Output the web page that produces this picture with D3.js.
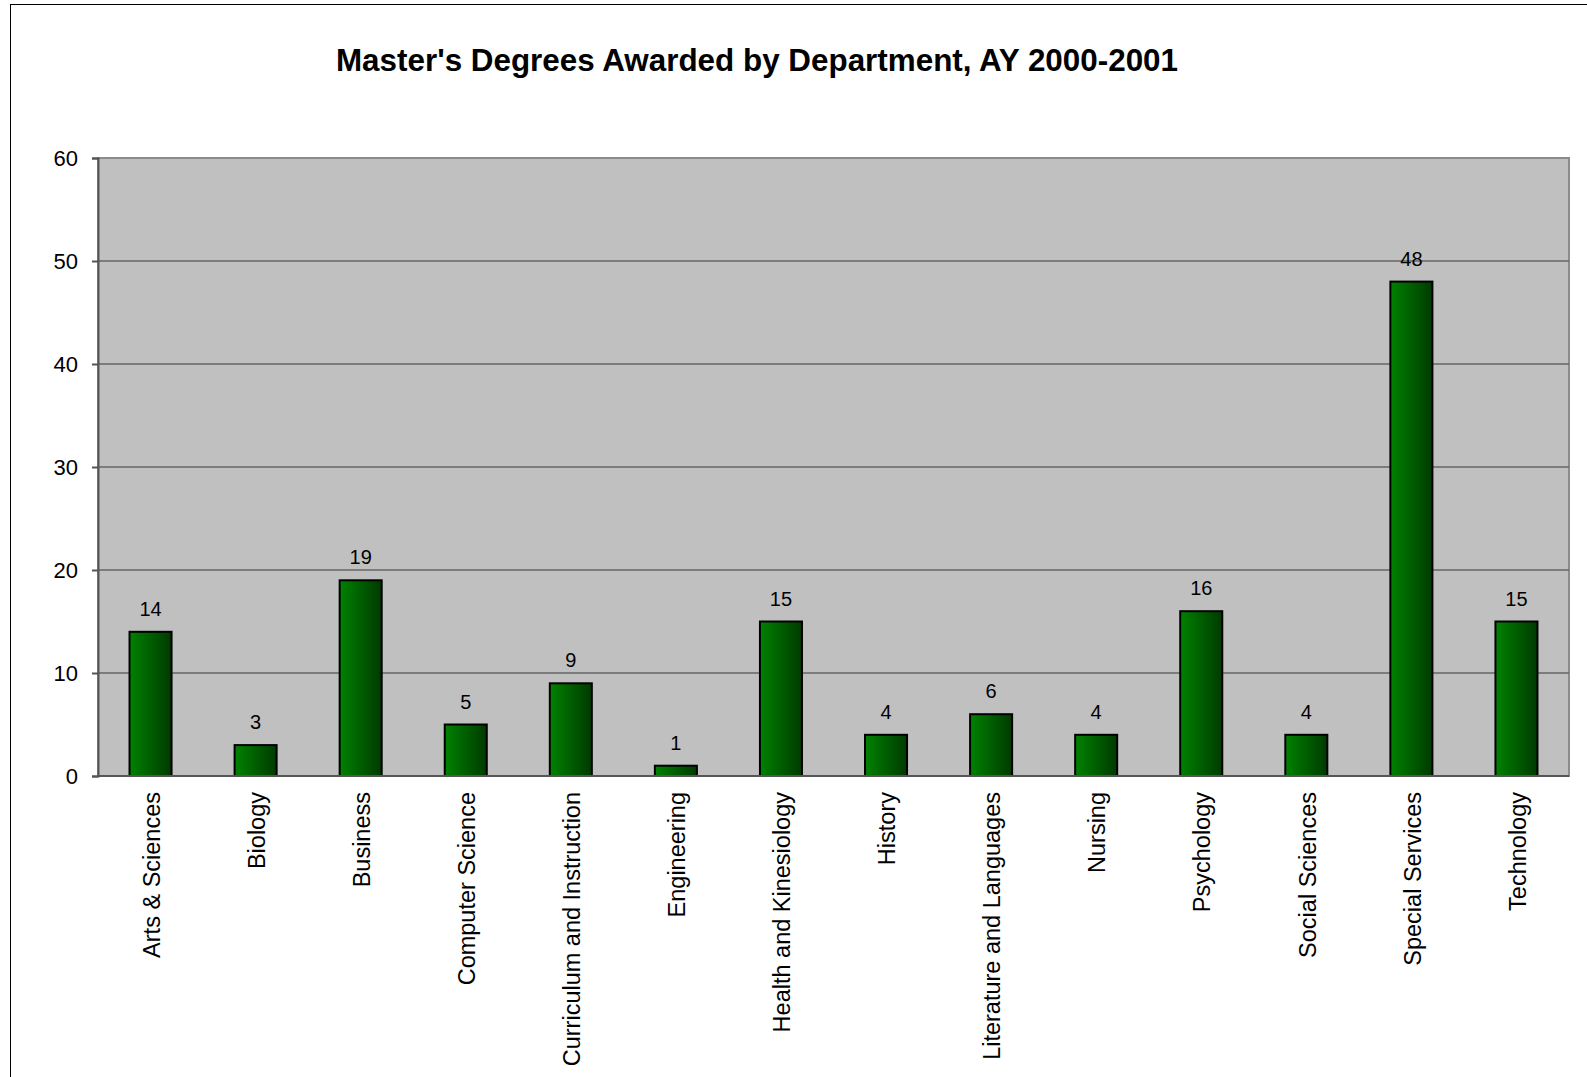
<!DOCTYPE html>
<html>
<head>
<meta charset="utf-8">
<script src="https://cdn.jsdelivr.net/npm/d3@7"></script>
<style>
  body { margin: 0; background: #fff; }
  svg { display: block; font-family: "Liberation Sans", Arial, sans-serif; }
</style>
</head>
<body>
<div id="chart"></div>
<script>
// data
let departments = ["Arts & Sciences", "Biology", "Business", "Computer Science",
  "Curriculum and Instruction", "Engineering", "Health and Kinesiology", "History",
  "Literature and Languages", "Nursing", "Psychology", "Social Sciences",
  "Special Services", "Technology"];
let degrees = [14, 3, 19, 5, 9, 1, 15, 4, 6, 4, 16, 4, 48, 15];
let yTicks = [0, 10, 20, 30, 40, 50, 60];
let title = "Master's Degrees Awarded by Department, AY 2000-2001";

let buildChart = () => {
  let width = 1587, height = 1077;
  let plot = {left: 98, right: 1569, top: 158, bottom: 776};

  let svg = d3.select("#chart").append("svg")
    .attr("width", width)
    .attr("height", height);

  // outer chart border (runs off right/bottom like the original)
  svg.append("rect")
    .attr("x", 10.5).attr("y", 4.5)
    .attr("width", 1600).attr("height", 1100)
    .attr("fill", "#fff")
    .attr("stroke", "#000")
    .attr("stroke-width", 1);

  let defs = svg.append("defs");
  let grad = defs.append("linearGradient")
    .attr("id", "bar-grad")
    .attr("x1", "0%").attr("x2", "100%")
    .attr("y1", "0%").attr("y2", "0%");
  grad.append("stop").attr("offset", "0%").attr("stop-color", "#008200");
  grad.append("stop").attr("offset", "100%").attr("stop-color", "#003a00");

  let x = d3.scaleBand()
    .domain(departments)
    .range([plot.left, plot.right])
    .paddingInner(0.6)
    .paddingOuter(0.3);

  let y = d3.scaleLinear()
    .domain([0, 60])
    .range([plot.bottom, plot.top]);

  // plot background
  svg.append("rect")
    .attr("x", plot.left).attr("y", plot.top)
    .attr("width", plot.right - plot.left)
    .attr("height", plot.bottom - plot.top)
    .attr("fill", "#c0c0c0")
    .attr("stroke", "#8c8c8c")
    .attr("stroke-width", 2);

  // gridlines
  svg.append("g")
    .selectAll("line")
    .data(yTicks.filter(t => t > 0 && t < 60))
    .enter().append("line")
    .attr("x1", plot.left).attr("x2", plot.right)
    .attr("y1", d => y(d)).attr("y2", d => y(d))
    .attr("stroke", "#666")
    .attr("stroke-width", 1.5);

  // y axis
  let yAxis = svg.append("g")
    .attr("transform", `translate(${plot.left},0)`)
    .call(d3.axisLeft(y).tickValues(yTicks).tickSize(6).tickPadding(14));
  yAxis.select(".domain").attr("stroke", "#555").attr("stroke-width", 2);
  yAxis.selectAll(".tick line").attr("stroke", "#555").attr("stroke-width", 2);
  yAxis.selectAll("text")
    .attr("font-size", "22px")
    .attr("font-family", "Liberation Sans, Arial, sans-serif")
    .attr("fill", "#000");

  // bars
  svg.append("g")
    .selectAll("rect")
    .data(degrees)
    .enter().append("rect")
    .attr("x", (d, i) => x(departments[i]))
    .attr("y", d => y(d))
    .attr("width", x.bandwidth())
    .attr("height", d => y(0) - y(d))
    .attr("fill", "url(#bar-grad)")
    .attr("stroke", "#000")
    .attr("stroke-width", 2);

  // value labels
  svg.append("g")
    .selectAll("text")
    .data(degrees)
    .enter().append("text")
    .attr("x", (d, i) => x(departments[i]) + x.bandwidth() / 2)
    .attr("y", d => y(d) - 16)
    .attr("text-anchor", "middle")
    .attr("font-size", "20px")
    .text(d => d);

  // x axis line
  svg.append("line")
    .attr("x1", plot.left).attr("x2", plot.right)
    .attr("y1", plot.bottom).attr("y2", plot.bottom)
    .attr("stroke", "#555")
    .attr("stroke-width", 2);

  // category labels, rotated
  svg.append("g")
    .selectAll("text")
    .data(departments)
    .enter().append("text")
    .attr("transform", d => `translate(${x(d) + x.bandwidth() / 2 + 1},792) rotate(-90)`)
    .attr("text-anchor", "end")
    .attr("dy", "0.35em")
    .attr("font-size", "23.5px")
    .text(d => d);

  // title
  svg.append("text")
    .attr("x", 757)
    .attr("y", 71)
    .attr("text-anchor", "middle")
    .attr("font-size", "31.4px")
    .attr("font-weight", "bold")
    .text(title);
};

buildChart();
</script>
</body>
</html>
